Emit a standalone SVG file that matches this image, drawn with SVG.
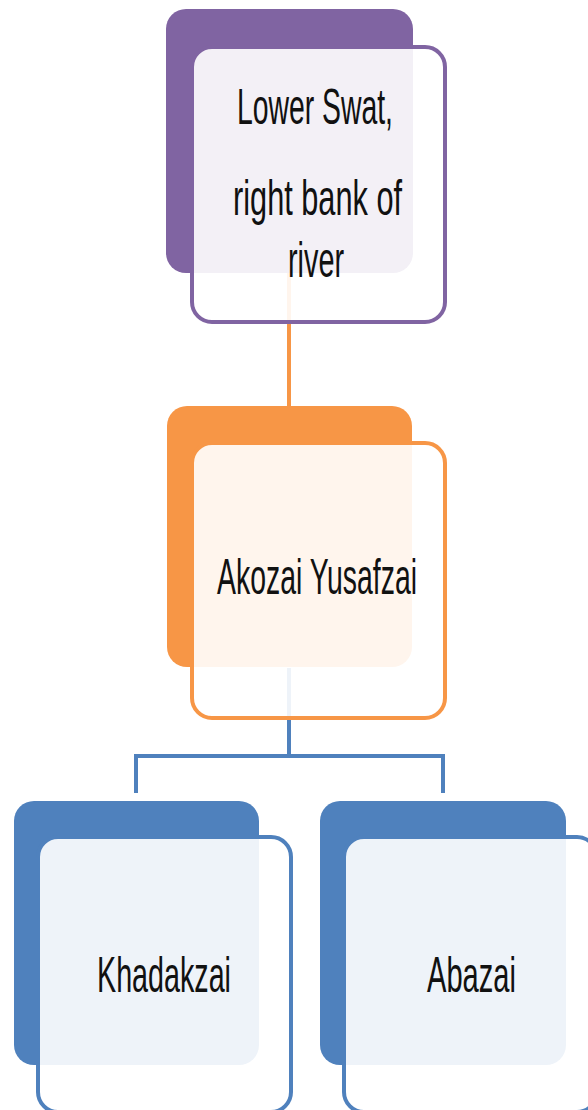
<svg xmlns="http://www.w3.org/2000/svg" width="588" height="1110" viewBox="0 0 588 1110">
<style>
.t{font-family:"Liberation Sans",Arial,sans-serif;font-size:50px;fill:#111;}
.front{fill:#fff;fill-opacity:0.9;stroke-width:4;}
.conn{fill:none;stroke-width:4;}
</style>
<rect width="588" height="1110" fill="#fff"/>
<g id="connectors">
<line class="conn" x1="289" y1="273" x2="289" y2="406" stroke="#F79646"/>
<polyline class="conn" points="289,668 289,756 136,756 136,793" stroke="#4F81BD"/>
<polyline class="conn" points="289,756 443,756 443,793" stroke="#4F81BD"/>
</g>
<g id="node-lower-swat">
<rect x="166" y="9" width="247" height="264" rx="20" fill="#8064A2"/>
<rect class="front" x="192" y="47" width="253" height="275" rx="20" stroke="#8064A2"/>
<text class="t" x="237" y="124" textLength="156" lengthAdjust="spacingAndGlyphs">Lower Swat,</text>
<text class="t" x="233" y="215" textLength="169" lengthAdjust="spacingAndGlyphs">right bank of</text>
<text class="t" x="288" y="277" textLength="56" lengthAdjust="spacingAndGlyphs">river</text>
</g>
<g id="node-akozai">
<rect x="167" y="406" width="245" height="261" rx="20" fill="#F79646"/>
<rect class="front" x="192" y="443" width="253" height="275" rx="20" stroke="#F79646"/>
<text class="t" x="217" y="594" textLength="200" lengthAdjust="spacingAndGlyphs">Akozai Yusafzai</text>
</g>
<g id="node-khadakzai">
<rect x="14" y="801" width="245" height="264" rx="20" fill="#4F81BD"/>
<rect class="front" x="38" y="837" width="253" height="275" rx="20" stroke="#4F81BD"/>
<text class="t" x="97" y="992" textLength="134" lengthAdjust="spacingAndGlyphs">Khadakzai</text>
</g>
<g id="node-abazai">
<rect x="320" y="801" width="246" height="264" rx="20" fill="#4F81BD"/>
<rect class="front" x="344" y="837" width="253" height="275" rx="20" stroke="#4F81BD"/>
<text class="t" x="427" y="992" textLength="89" lengthAdjust="spacingAndGlyphs">Abazai</text>
</g>
</svg>
